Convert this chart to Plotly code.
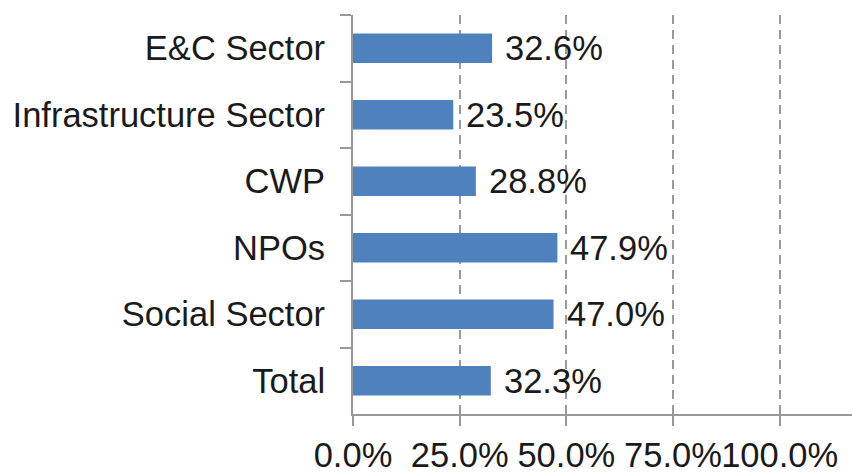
import plotly.graph_objects as go

categories = ["E&C Sector", "Infrastructure Sector", "CWP", "NPOs", "Social Sector", "Total"]
values = [32.6, 23.5, 28.8, 47.9, 47.0, 32.3]
labels = ["32.6%", "23.5%", "28.8%", "47.9%", "47.0%", "32.3%"]
x_ticks = [0, 25, 50, 75, 100]
x_tick_text = ["0.0%", "25.0%", "50.0%", "75.0%", "100.0%"]

FONT = "Liberation Sans, Arial, sans-serif"
TXT = "#1a1a1a"

fig = go.Figure()
fig.add_trace(go.Bar(
    y=categories, x=values, orientation="h",
    marker=dict(color="#4F81BD", line=dict(width=0)),
    width=0.44,
    hoverinfo="skip",
))

for c, v, t in zip(categories, values, labels):
    fig.add_annotation(x=v, y=c, text=t, showarrow=False, xanchor="left",
                       yanchor="middle", xshift=11,
                       font=dict(family=FONT, size=34.5, color=TXT))

fig.update_layout(
    width=852, height=472,
    margin=dict(l=353, r=0, t=15, b=58),
    paper_bgcolor="white", plot_bgcolor="white",
    showlegend=False,
    font=dict(family=FONT, size=34.5, color=TXT),
)
fig.update_xaxes(
    range=[0, 116.95], tickvals=x_ticks, ticktext=x_tick_text,
    tickangle=0,
    showgrid=True, gridcolor="#9a9a9a", gridwidth=1.5, griddash="9px,6px",
    zeroline=False,
    showline=True, linecolor="#999999", linewidth=2,
    ticks="outside", ticklen=10, tickcolor="#999999", tickwidth=2,
    tickfont=dict(family=FONT, size=34.5, color=TXT),
    automargin=False,
)
fig.update_yaxes(
    categoryorder="array", categoryarray=categories, autorange="reversed",
    showgrid=False, zeroline=False,
    showline=True, linecolor="#999999", linewidth=2,
    ticks="outside", ticklen=11, tickcolor="#999999", tickwidth=2,
    tickson="boundaries",
    ticklabelstandoff=19,
    tickfont=dict(family=FONT, size=34.5, color=TXT),
    automargin=False,
)

fig.write_html("out.html", config={"displayModeBar": False},
               post_script="document.body.style.margin='0';document.body.style.padding='0';")
